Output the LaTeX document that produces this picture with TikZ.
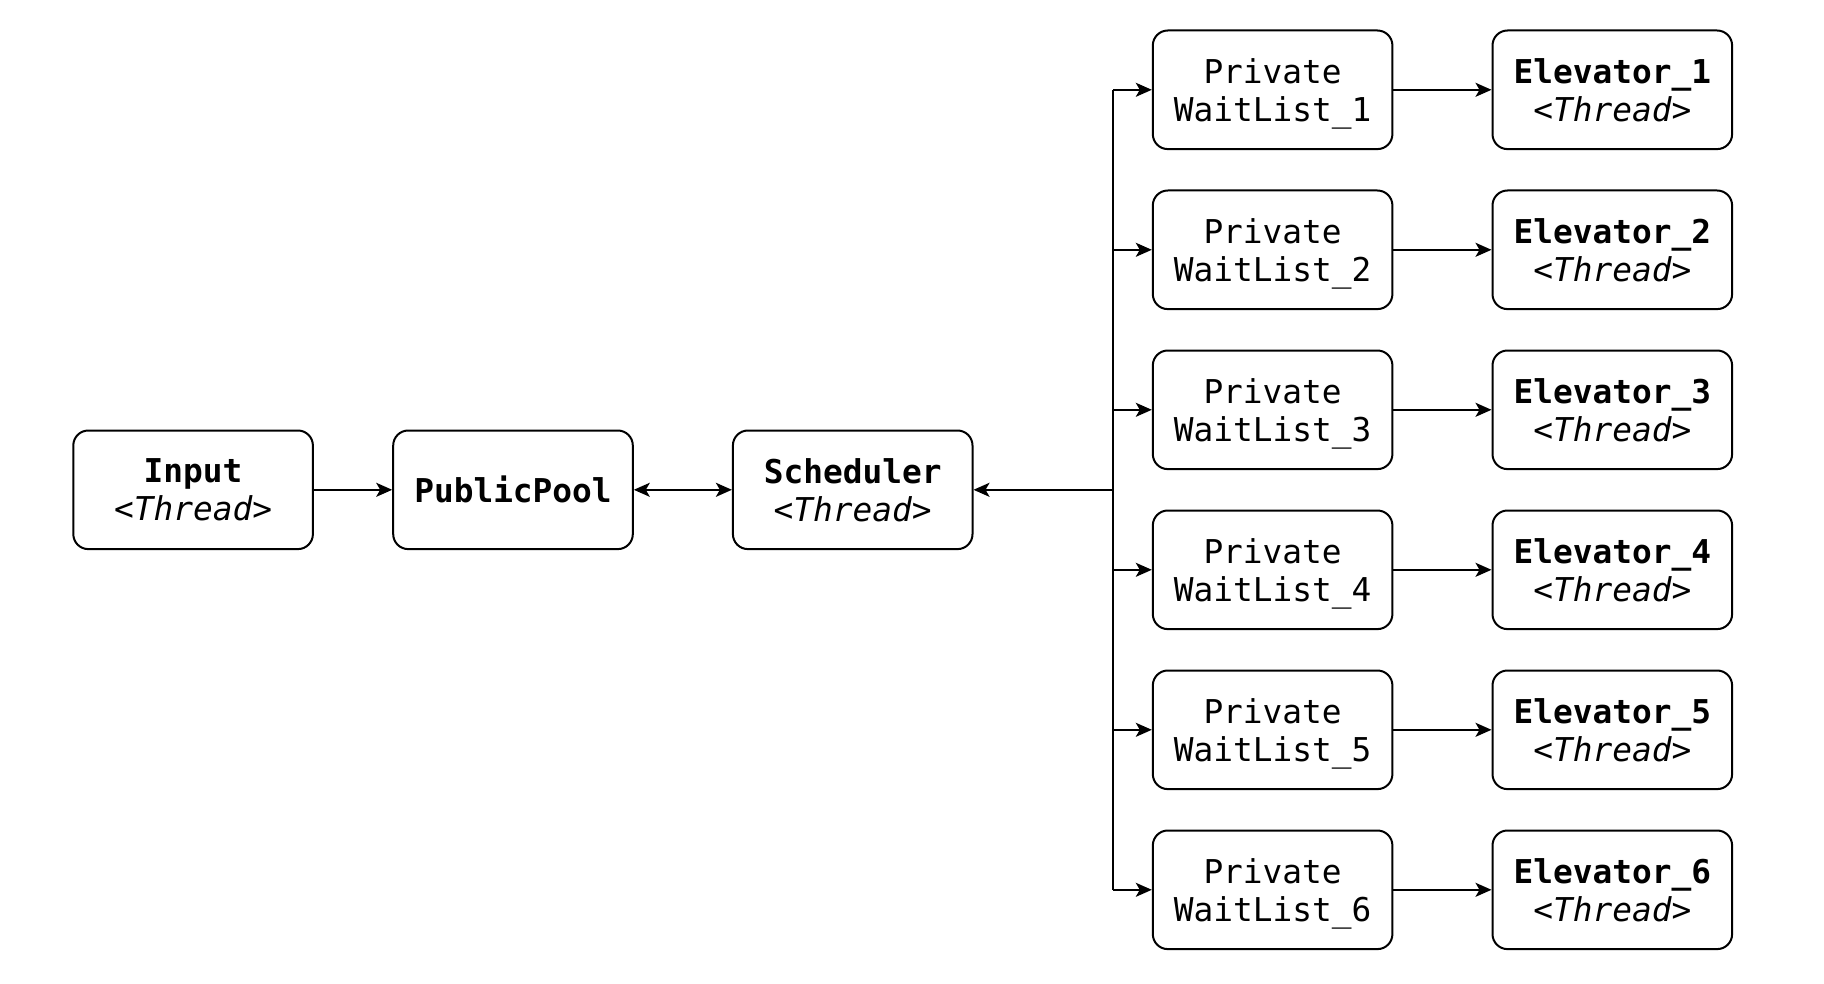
\documentclass[tikz,border=0pt]{standalone}
\usepackage{fontspec}
\setmainfont{DejaVu Sans Mono}
\usetikzlibrary{arrows.meta}
\tikzset{
  box/.style={draw, line width=1pt, rounded corners=7.5pt, minimum width=119.8pt, minimum height=59.3pt, align=center, inner sep=0pt, font=\fontsize{16.4}{19}\selectfont, fill=white},
  conn/.style={line width=1pt, -{Stealth[length=8pt, width=7pt, inset=2pt]}},
  dconn/.style={line width=1pt, {Stealth[length=8pt, width=7pt, inset=2pt]}-{Stealth[length=8pt, width=7pt, inset=2pt]}},
}
\begin{document}
\begin{tikzpicture}[x=0.5pt, y=-0.5pt]
\useasboundingbox (0,0) rectangle (1824,984);
\node[box] (input) at (193.1,489.8) {\textbf{Input}\\\textit{<Thread>}};
\node[box] (pool) at (513,489.8) {\textbf{PublicPool}};
\node[box] (sched) at (852.7,489.8) {\textbf{Scheduler}\\\textit{<Thread>}};
\foreach \i in {1,...,6} {
  \pgfmathsetmacro{\yy}{89.8+160*(\i-1)}
  \node[box] (pw\i) at (1272.6,\yy) {Private\\WaitList\smash{\_}\i};
  \node[box] (el\i) at (1612.3,\yy) {\textbf{Elevator\_\i}\\\textit{<Thread>}};
}
\coordinate (trunk) at (1113.3,489.8);
\coordinate (ttop) at (1113.3,89.8);
\coordinate (tbot) at (1113.3,889.8);
\draw[conn] (input) -- (pool);
\draw[dconn] (pool) -- (sched);
\draw[conn] (trunk) -- (sched);
\draw[line width=1pt] (ttop) -- (tbot);
\foreach \i in {1,...,6} {
  \draw[conn] (pw\i.west -| trunk) -- (pw\i.west);
  \draw[conn] (pw\i) -- (el\i);
}
\end{tikzpicture}
\end{document}
